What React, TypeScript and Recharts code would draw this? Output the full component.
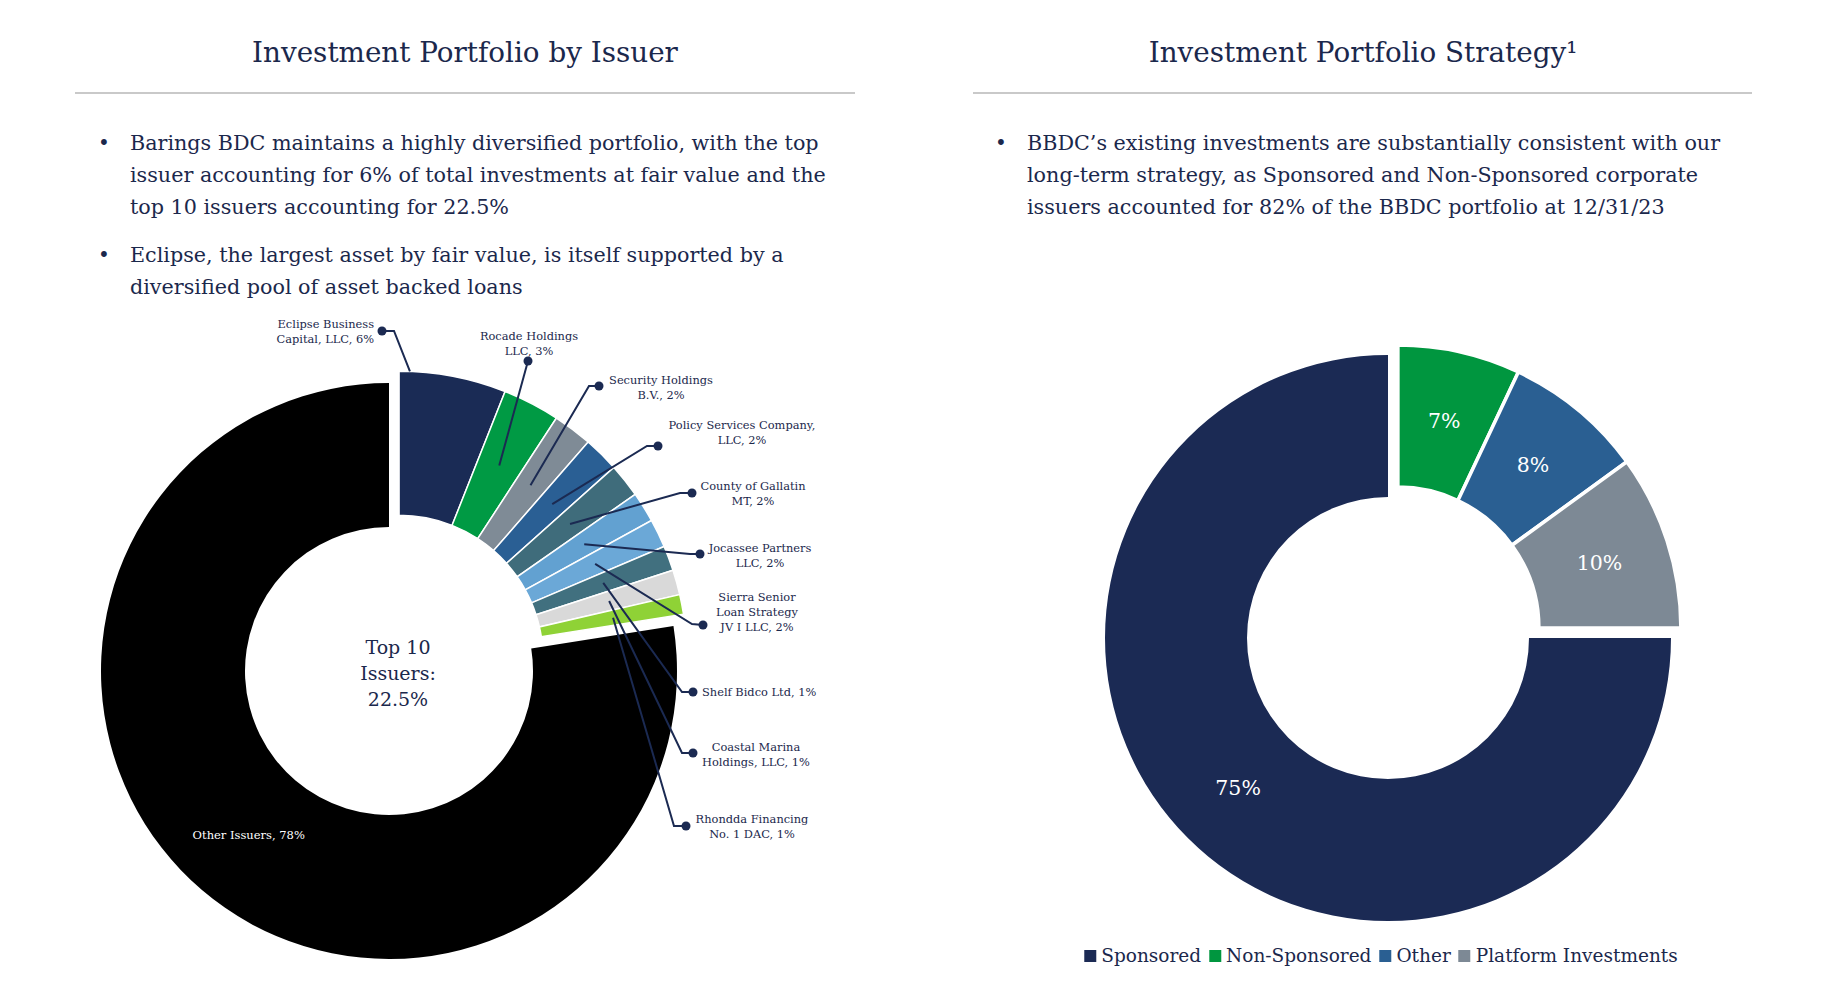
import React from "react";
import { PieChart, Pie, Cell } from "recharts";

// ---- data: issuer breakdown (left donut), clockwise from 12 o'clock ----
const issuerNames = [
  "Eclipse Business Capital, LLC",
  "Rocade Holdings LLC",
  "Security Holdings B.V.",
  "Policy Services Company, LLC",
  "County of Gallatin MT",
  "Jocassee Partners LLC",
  "Sierra Senior Loan Strategy JV I LLC",
  "Shelf Bidco Ltd",
  "Coastal Marina Holdings, LLC",
  "Rhondda Financing No. 1 DAC",
  "Other Issuers",
];
const issuerShares = [6.0, 3.2, 2.2, 2.0, 1.9, 1.7, 1.6, 1.4, 1.4, 1.1, 77.5];
const issuerLabelLines = [
  ["Eclipse Business", "Capital, LLC, 6%"],
  ["Rocade Holdings", "LLC, 3%"],
  ["Security Holdings", "B.V., 2%"],
  ["Policy Services Company,", "LLC, 2%"],
  ["County of Gallatin", "MT, 2%"],
  ["Jocassee Partners", "LLC, 2%"],
  ["Sierra Senior", "Loan Strategy", "JV I LLC, 2%"],
  ["Shelf Bidco Ltd, 1%"],
  ["Coastal Marina", "Holdings, LLC, 1%"],
  ["Rhondda Financing", "No. 1 DAC, 1%"],
  ["Other Issuers, 78%"],
];
const issuerColors = [
  "#1a2b55", "#009a44", "#7f8b96", "#2a5f94", "#3f6c7b",
  "#62a1d1", "#6ba8d7", "#41707f", "#d9d9d9", "#8fd236", "#000000",
];
const topTenIdx = [0, 1, 2, 3, 4, 5, 6, 7, 8, 9];
const centerLines = ["Top 10", "Issuers:", "22.5%"];

// ---- data: strategy breakdown (right donut), clockwise from 3 o'clock ----
const strategyNames = ["Sponsored", "Non-Sponsored", "Other", "Platform Investments"];
const strategyShares = [75, 7, 8, 10];
const strategyLabels = ["75%", "7%", "8%", "10%"];
const strategyColors = ["#1b2a54", "#00963f", "#2a5f92", "#7d8995"];
const smallStrategyIdx = [1, 2, 3];

// ---- slide text ----
const leftTitle = "Investment Portfolio by Issuer";
const rightTitle = "Investment Portfolio Strategy\u00b9";
const leftBullets = [
  [
    "Barings BDC maintains a highly diversified portfolio, with the top",
    "issuer accounting for 6% of total investments at fair value and the",
    "top 10 issuers accounting for 22.5%",
  ],
  [
    "Eclipse, the largest asset by fair value, is itself supported by a",
    "diversified pool of asset backed loans",
  ],
];
const rightBullets = [
  [
    "BBDC\u2019s existing investments are substantially consistent with our",
    "long-term strategy, as Sponsored and Non-Sponsored corporate",
    "issuers accounted for 82% of the BBDC portfolio at 12/31/23",
  ],
];

// callout placement for the top 10 issuers (label text / dot / elbow)
const calloutLayout = [
  { dot: [382, 331], elbow: [394, 331], text: [374, 324], anchor: "end", t: 0.1, r: 1 },
  { dot: [528, 361], elbow: null, text: [529, 336], anchor: "middle" },
  { dot: [599, 386], elbow: [589, 386], text: [661, 380], anchor: "middle" },
  { dot: [658, 446], elbow: [647, 446], text: [742, 425], anchor: "middle" },
  { dot: [692, 493], elbow: [680, 493], text: [753, 486], anchor: "middle" },
  { dot: [700, 554], elbow: [690, 554], text: [760, 548], anchor: "middle" },
  { dot: [703, 625], elbow: [692, 624], text: [757, 597], anchor: "middle" },
  { dot: [693, 692], elbow: [682, 692], text: [702, 692], anchor: "start" },
  { dot: [693, 753], elbow: [682, 753], text: [756, 747], anchor: "middle" },
  { dot: [686, 826], elbow: [674, 826], text: [752, 819], anchor: "middle" },
];

const FONT = '"DejaVu Serif", Georgia, serif';
const TEXT_NAVY = "#1b284c";
const LINE_NAVY = "#1b2a52";

const polar = (cx: number, cy: number, r: number, angle: number) => {
  const rad = (-angle * Math.PI) / 180;
  return [cx + r * Math.cos(rad), cy + r * Math.sin(rad)];
};

// offset that pulls a contiguous group of slices out along its middle angle
const groupOffset = (shares: number[], idx: number[], startAngle: number, dist: number) => {
  const total = shares.reduce((a, b) => a + b, 0);
  const before = shares.slice(0, idx[0]).reduce((a, b) => a + b, 0);
  const inGroup = idx.reduce((a, i) => a + shares[i], 0);
  const mid = startAngle - ((before + inGroup / 2) / total) * 360;
  const [x, y] = polar(0, 0, dist, mid);
  return { dx: x, dy: y };
};

const Bullets: React.FC<{ items: string[][]; left: number; top: number }> = ({ items, left, top }) => (
  <div style={{ position: "absolute", left, top, fontSize: 20.7, lineHeight: "32px", color: TEXT_NAVY }}>
    {items.map((lines, i) => (
      <div key={i} style={{ position: "relative", paddingLeft: 31, marginBottom: i < items.length - 1 ? 16 : 0 }}>
        <span style={{ position: "absolute", left: -1, top: 0, fontSize: 20 }}>•</span>
        {lines.map((l, j) => (
          <div key={j} style={{ whiteSpace: "nowrap" }}>{l}</div>
        ))}
      </div>
    ))}
  </div>
);

const App: React.FC = () => {
  // left donut geometry
  const lcx = 389, lcy = 671, lIn = 144, lOut = 288;
  const lOff = groupOffset(issuerShares, topTenIdx, 90, 15.5);
  const issuerData = issuerNames.map((name, i) => ({ name, value: issuerShares[i] }));

  // right donut geometry (chart starts at x = 922)
  const rcx = 466, rcy = 638, rIn = 141, rOut = 283;
  const rOff = groupOffset(strategyShares, smallStrategyIdx, 0, 14);
  const strategyData = strategyNames.map((name, i) => ({ name, value: strategyShares[i] }));

  const otherLabel = (p: any) => {
    if (p.index !== 10) return null;
    const [x, y] = polar(p.cx, p.cy, (p.innerRadius + p.outerRadius) / 2, p.midAngle);
    return (
      <text x={x} y={y} fill="#fff" fontSize={11.5} fontFamily={FONT} textAnchor="middle" dominantBaseline="central">
        {issuerLabelLines[10][0]}
      </text>
    );
  };

  const calloutLabel = (p: any) => {
    const c = calloutLayout[p.index];
    if (!c) return null;
    const t = c.t ?? 0.5;
    const rf = c.r ?? 0.5;
    const ang = p.startAngle + (p.endAngle - p.startAngle) * t;
    const rad = p.innerRadius + (p.outerRadius - p.innerRadius) * rf + (rf === 0.5 ? 2 : 0);
    const [ax, ay] = polar(p.cx, p.cy, rad, ang);
    const pts = [[ax, ay], ...(c.elbow ? [c.elbow] : []), c.dot].map((q) => q.join(",")).join(" ");
    return (
      <g>
        <polyline points={pts} fill="none" stroke={LINE_NAVY} strokeWidth={2} />
        <circle cx={c.dot[0]} cy={c.dot[1]} r={4.5} fill={LINE_NAVY} />
        <text fontSize={11.4} fontFamily={FONT} fill={TEXT_NAVY} textAnchor={c.anchor} dominantBaseline="central">
          {issuerLabelLines[p.index].map((l, j) => (
            <tspan key={j} x={c.text[0]} y={c.text[1] + j * 15}>{l}</tspan>
          ))}
        </text>
      </g>
    );
  };

  const strategyLabel = (p: any) => {
    const [x, y] = polar(p.cx, p.cy, (p.innerRadius + p.outerRadius) / 2, p.midAngle);
    return (
      <text x={x} y={y} fill="#fff" fontSize={20.5} fontFamily={FONT} textAnchor="middle" dominantBaseline="central">
        {strategyLabels[p.index]}
      </text>
    );
  };

  return (
    <div style={{ position: "absolute", left: 0, top: 0, width: 1844, height: 997, background: "#fff", fontFamily: FONT, color: TEXT_NAVY, overflow: "hidden" }}>
      {/* titles + rules */}
      <div style={{ position: "absolute", left: 75, width: 780, top: 36, textAlign: "center", fontSize: 27.8 }}>{leftTitle}</div>
      <div style={{ position: "absolute", left: 973, width: 780, top: 36, textAlign: "center", fontSize: 27.8 }}>{rightTitle}</div>
      <div style={{ position: "absolute", left: 75, width: 780, top: 92, height: 1.5, background: "#c9c9c9" }} />
      <div style={{ position: "absolute", left: 973, width: 779, top: 92, height: 1.5, background: "#c9c9c9" }} />

      <Bullets items={leftBullets} left={99} top={127} />
      <Bullets items={rightBullets} left={996} top={127} />

      {/* left donut */}
      <div style={{ position: "absolute", left: 0, top: 0 }}>
        <PieChart width={922} height={997} margin={{ top: 0, right: 0, bottom: 0, left: 0 }}>
          <Pie
            data={issuerData}
            dataKey="value"
            cx={lcx}
            cy={lcy}
            innerRadius={lIn}
            outerRadius={lOut}
            startAngle={90}
            endAngle={-270}
            isAnimationActive={false}
            labelLine={false}
            label={otherLabel}
          >
            {issuerData.map((d, i) => (
              <Cell key={d.name} fill={i === 10 ? issuerColors[i] : "none"} stroke="none" />
            ))}
          </Pie>
          <Pie
            data={issuerData}
            dataKey="value"
            cx={lcx + lOff.dx}
            cy={lcy + lOff.dy}
            innerRadius={lIn}
            outerRadius={lOut}
            startAngle={90}
            endAngle={-270}
            isAnimationActive={false}
            labelLine={false}
            label={calloutLabel}
          >
            {issuerData.map((d, i) => (
              <Cell key={d.name} fill={i === 10 ? "none" : issuerColors[i]} stroke={i === 10 ? "none" : "#fff"} strokeWidth={1.5} />
            ))}
          </Pie>
        </PieChart>
      </div>
      <div style={{ position: "absolute", left: 298, width: 200, top: 634, textAlign: "center", fontSize: 19, lineHeight: "26px" }}>
        {centerLines.map((l) => (
          <div key={l}>{l}</div>
        ))}
      </div>

      {/* right donut */}
      <div style={{ position: "absolute", left: 922, top: 0 }}>
        <PieChart width={922} height={997} margin={{ top: 0, right: 0, bottom: 0, left: 0 }}>
          <Pie
            data={strategyData}
            dataKey="value"
            cx={rcx}
            cy={rcy}
            innerRadius={rIn}
            outerRadius={rOut}
            startAngle={0}
            endAngle={-360}
            isAnimationActive={false}
            labelLine={false}
            label={(p: any) => (p.index === 0 ? strategyLabel(p) : null)}
          >
            {strategyData.map((d, i) => (
              <Cell key={d.name} fill={i === 0 ? strategyColors[i] : "none"} stroke="none" />
            ))}
          </Pie>
          <Pie
            data={strategyData}
            dataKey="value"
            cx={rcx + rOff.dx}
            cy={rcy + rOff.dy}
            innerRadius={rIn}
            outerRadius={rOut}
            startAngle={0}
            endAngle={-360}
            isAnimationActive={false}
            labelLine={false}
            label={(p: any) => (p.index === 0 ? null : strategyLabel(p))}
          >
            {strategyData.map((d, i) => (
              <Cell key={d.name} fill={i === 0 ? "none" : strategyColors[i]} stroke={i === 0 ? "none" : "#fff"} strokeWidth={3.5} />
            ))}
          </Pie>
        </PieChart>
      </div>

      {/* legend */}
      <div style={{ position: "absolute", left: 1381, top: 945, transform: "translateX(-50%)", display: "flex", alignItems: "center", fontSize: 18.5, whiteSpace: "nowrap" }}>
        {strategyNames.map((n, i) => (
          <div key={n} style={{ display: "flex", alignItems: "center", marginRight: i < strategyNames.length - 1 ? 8 : 0 }}>
            <span style={{ width: 12, height: 12, background: strategyColors[i], marginRight: 5, display: "inline-block" }} />
            <span>{n}</span>
          </div>
        ))}
      </div>
    </div>
  );
};

export default App;
